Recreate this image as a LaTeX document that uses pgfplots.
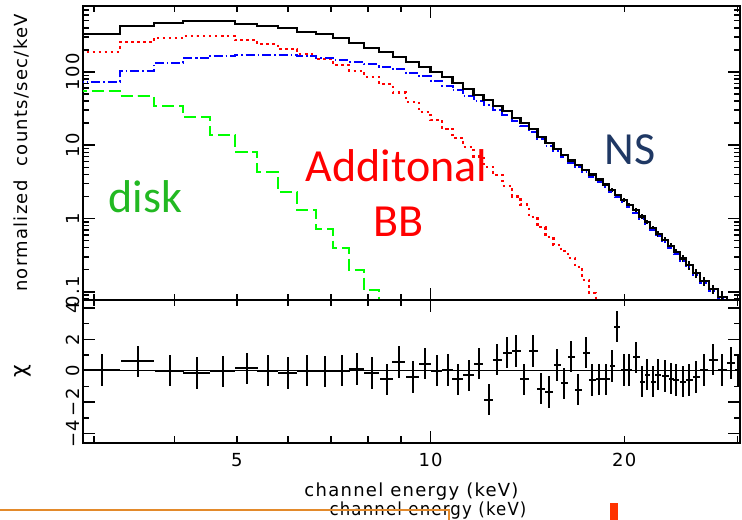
\documentclass[border=0pt]{standalone}
\usepackage{pgfplots}
\pgfplotsset{compat=1.18}
\usepackage{pgfplotstable}
\usepackage{fontspec}
\setmainfont{DejaVu Sans}
\newfontfamily\pg[LetterSpace=7]{DejaVu Sans}
\newfontfamily\calib{Carlito}

\definecolor{txtgreen}{RGB}{34,185,34}
\definecolor{nsblue}{RGB}{31,56,100}
\definecolor{slideorange}{RGB}{227,138,43}
\definecolor{slidered}{RGB}{255,51,0}

% bins: centre (keV), half width, total model, NS, extra BB, disk, data error, residual chi
\pgfplotstableread{
e      hw     tot    ns     bb     disk   err    chi
2.80   0      329    73.5   189    54.9   0      0
3.087  0.21   329    73.5   189    54.9   2.0    0.05
3.510  0.21   427    103    253    46.9   2.6    0.6
3.936  0.21   469    133    293    34.6   2.8    0
4.334  0.205  499    153    312    24.0   3.0    -0.15
4.756  0.21   499    167    312    13.8   3.0    -0.05
5.182  0.21   450    172    271    8.15   2.7    0.15
5.586  0.205  419    172    238    4.35   2.5    0
5.999  0.21   393    172    203    2.32   2.4    -0.15
6.421  0.21   353    165    176    1.31   2.1    0
6.847  0.215  326    155    149    0.71   2.0    -0.05
7.276  0.21   287    146    123    0.39   1.7    0
7.677  0.205  246    137    103    0.198  1.5    0.1
8.100  0.215  210    128    86     0.106  1.3    -0.15
8.545  0.205  185    118    68     0.055  1.1    -0.55
8.920  0.21   161    108    52.4   0.03   1.0    0.55
9.377  0.215  138    97     39.2   0.03   0.8    -0.4
9.788  0.21   118    87     28.6   0.03   0.7    0.45
10.216 0.21   98.8   75     22.0   0.03   0.6    0
10.626 0.20   84.4   65     16.5   0.03   0.5    0.05
11.012 0.21   69.9   56     12.4   0.03   0.42   -0.55
11.454 0.215  57.9   47     9.5    0.03   0.87   -0.3
11.870 0.21   48.4   40.5   7.0    0.03   0.73   0.45
12.302 0.21   41.4   35.5   5.1    0.03   0.62   -1.85
12.704 0.215  34.6   30     3.9    0.03   0.52   0.7
13.167 0.22   29.3   26     2.8    0.03   0.44   1.15
13.597 0.21   23.7   21.3   2.0    0.03   0.36   1.25
13.991 0.215  19.9   18     1.55   0.03   0.30   -0.55
14.448 0.22   16.5   15.2   1.05   0.03   0.25   1.25
14.867 0.21   13.1   12.1   0.76   0.03   0.20   -1.15
15.298 0.22   10.6   9.8    0.56   0.03   0.16   -1.35
15.742 0.21   8.88   8.26   0.44   0.03   0.27   0.35
16.141 0.20   7.34   6.8    0.36   0.03   0.22   -0.8
16.549 0.21   6.18   5.75   0.29   0.03   0.19   0.9
16.969 0.23   5.35   4.97   0.22   0.03   0.16   -1.2
17.461 0.215  4.6    4.28   0.145  0.03   0.14   1.15
17.839 0.21   3.98   3.70   0.096  0.03   0.12   -0.6
18.291 0.23   3.40   3.16   0.065  0.03   0.17   -0.55
18.754 0.215  2.91   2.71   0.045  0.03   0.15   -0.55
19.160 0.19   2.45   2.28   0.03   0.03   0.12   0.3
19.506 0.21   2.09   1.94   0.03   0.03   0.10   2.8
20.000 0.215  1.79   1.66   0.03   0.03   0.09   0.05
20.361 0.22   1.53   1.42   0.03   0.03   0.107  0.05
20.876 0.24   1.29   1.20   0.03   0.03   0.09   0.85
21.328 0.21   1.065  0.99   0.03   0.03   0.075  -0.7
21.713 0.215  0.896  0.833  0.03   0.03   0.063  -0.25
22.183 0.22   0.742  0.69   0.03   0.03   0.052  -0.7
22.583 0.245  0.615  0.572  0.03   0.03   0.062  -0.25
23.155 0.27   0.509  0.473  0.03   0.03   0.051  -0.35
23.657 0.23   0.421  0.392  0.03   0.03   0.042  -0.5
24.083 0.26   0.349  0.325  0.03   0.03   0.035  -0.6
24.693 0.285  0.285  0.265  0.03   0.03   0.029  -0.7
25.229 0.295  0.232  0.216  0.03   0.03   0.032  -0.6
25.868 0.345  0.180  0.167  0.03   0.03   0.025  -0.4
26.618 0.405  0.140  0.130  0.03   0.03   0.020  0.05
27.487 0.44   0.109  0.101  0.03   0.03   0.015  0.7
28.386 0.455  0.0849 0.079  0.03   0.03   0.017  0.05
29.313 0.42   0.0662 0.0616 0.03   0.03   0.013  0.5
30.056 0.37   0.053  0.049  0.03   0.03   0.011  0.05
31.0   0      0.053  0.049  0.03   0.03   0      0
}\spec

\begin{document}
\begin{tikzpicture}
\fill[white] (0,0) rectangle (742bp,520bp);
\useasboundingbox (0,0) rectangle (742bp,520bp);

\begin{axis}[
  at={(83bp,220bp)}, anchor=south west,
  scale only axis, width=657bp, height=294bp,
  xmode=log, ymode=log,
  xmin=2.884, xmax=30.25, ymin=0.0773, ymax=793,
  axis line style={line width=2.2bp},
  tick style={black, line width=1.5bp},
  tick align=inside,
  major tick length=12bp, minor tick length=6.5bp,
  every tick label/.append style={font=\pg\fontsize{18bp}{18bp}\selectfont},
  yticklabel style={rotate=90, anchor=south},
  yticklabel shift=0bp,
  clip marker paths=true,
  xtick={10}, xticklabels={}, minor xtick={3,4,5,6,7,8,9,20,30},
  ytick={0.1,1,10,100}, yticklabels={0.1,1,10,100},
  minor ytick={0.08,0.09,0.2,0.3,0.4,0.5,0.6,0.7,0.8,0.9,2,3,4,5,6,7,8,9,20,30,40,50,60,70,80,90,200,300,400,500,600,700},
  ylabel={normalized\ \ counts/sec/keV},
  every axis y label/.style={at={(axis description cs:-0.094,0.5)}, rotate=90, anchor=center,
    font=\pg\fontsize{18bp}{18bp}\selectfont},
]
\addplot[draw=none, mark=none,
  skip coords between index={0}{1}, skip coords between index={59}{60},
  error bars/.cd, x dir=both, x explicit, y dir=both, y explicit,
  error mark=none, error bar style={draw=black, solid, line width=2bp}]
  table[x=e, y=tot, x error=hw, y error=err] {\spec};
\addplot[green, line width=2bp, const plot mark mid, no markers, dash pattern=on 12bp off 5bp]
  table[x=e, y=disk] {\spec};
\addplot[red, line width=2.2bp, const plot mark mid, no markers, dash pattern=on 2.5bp off 3.5bp]
  table[x=e, y=bb] {\spec};
\addplot[blue, line width=2bp, const plot mark mid, no markers, dash pattern=on 9bp off 3bp on 1.5bp off 3bp]
  table[x=e, y=ns] {\spec};
\addplot[black, line width=2.2bp, const plot mark mid, no markers]
  table[x=e, y=tot] {\spec};
\end{axis}

\begin{axis}[
  at={(83bp,77bp)}, anchor=south west,
  scale only axis, width=657bp, height=143bp,
  xmode=log,
  xmin=2.884, xmax=30.25, ymin=-4.6, ymax=4.5,
  axis line style={line width=2.2bp},
  tick style={black, line width=1.5bp},
  tick align=inside,
  major tick length=12bp, minor tick length=6.5bp,
  every tick label/.append style={font=\pg\fontsize{18bp}{18bp}\selectfont},
  yticklabel style={rotate=90, anchor=south},
  yticklabel shift=0bp, xticklabel shift=6.7bp,
  clip marker paths=true,
  xtick={10}, xticklabels={10}, minor xtick={3,4,6,7,8,9,30},
  extra x ticks={5,20}, extra x tick labels={5,20},
  extra x tick style={major tick length=6.5bp},
  ytick={-4,-2,0,2,4}, yticklabels={−4,−2,0,2,4},
  minor ytick={-3,-1,1,3},
  xlabel={channel energy (keV)},
  every axis x label/.style={at={(axis description cs:0.5,0)}, anchor=base, yshift=-53bp,
    font=\pg\fontsize{18bp}{18bp}\selectfont},
  ylabel={χ},
  every axis y label/.style={at={(axis description cs:-0.0913,0.5)}, rotate=90, anchor=center,
    font=\pg\fontsize{22bp}{22bp}\selectfont},
]
\addplot[black, line width=1.2bp] coordinates {(2.8,0) (31,0)};
\addplot[draw=none, mark=none,
  skip coords between index={0}{1}, skip coords between index={59}{60},
  error bars/.cd, x dir=both, x explicit, y dir=both, y fixed=1,
  error mark=none, error bar style={draw=black, solid, line width=2bp}]
  table[x=e, y=chi, x error=hw] {\spec};
\end{axis}

% slide annotations
\node[anchor=base, inner sep=0, text=txtgreen, font=\calib\fontsize{46bp}{46bp}\selectfont] at (145.5bp,307bp) {disk};
\node[anchor=base, inner sep=0, text=red, font=\calib\fontsize{46bp}{46bp}\selectfont] at (396.5bp,338bp) {Additonal};
\node[anchor=base, inner sep=0, text=red, font=\calib\fontsize{46bp}{46bp}\selectfont] at (398.5bp,283bp) {BB};
\node[anchor=base, inner sep=0, text=nsblue, font=\calib\fontsize{46bp}{46bp}\selectfont] at (630bp,355bp) {NS};

% leftovers from the slide below the plot
\node[anchor=base, inner sep=0, xscale=0.92, font=\pg\fontsize{18bp}{18bp}\selectfont] at (428bp,5bp) {channel energy (keV)};
\draw[slideorange, line width=1.5bp] (0,10bp) -- (449bp,10bp) -- (449bp,-2bp);
\fill[slidered] (610bp,0) rectangle (618bp,17bp);
\end{tikzpicture}
\end{document}
